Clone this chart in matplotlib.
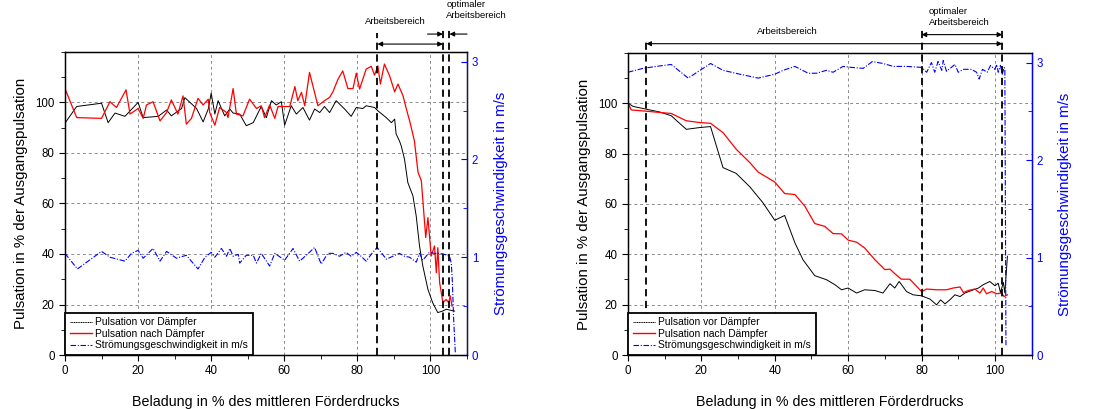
import matplotlib
matplotlib.use("Agg")
import matplotlib.pyplot as plt
from matplotlib.ticker import MultipleLocator

plt.rcParams['font.family'] = ['Liberation Sans', 'DejaVu Sans']

# ---- left panel data ----
l_vor_x = [0, 3.2, 10, 11.8, 13.7, 16.4, 20, 21.4, 25.5, 27.8, 29.1, 31.9, 32.8, 36, 37.8, 39.2, 40, 41, 41.9,
           43.7, 45.1, 46, 47.8, 49.6, 51.5, 53.7, 55.1, 56.5, 57.8, 59.2, 60.1, 61.9, 63.3, 65.1, 66.9, 68.3,
           69.7, 71, 72.4, 74.2, 76.5, 78.3, 79.7, 81.5, 82.4, 84.7, 85.6, 87.9, 89.3, 90.2, 90.6, 91.5, 92,
           92.9, 93.8, 95.2, 96.1, 97, 97.9, 99.3, 100.6, 102, 103.3, 104.3, 106.6]
l_vor_y = [91.8, 98.4, 99.7, 92, 95.8, 94.5, 100, 94, 94.5, 97, 94.7, 97.6, 101.9, 97.6, 92.3, 97.4, 103.7, 95.4,
           100.7, 94.7, 97.4, 95.8, 95.4, 90.8, 92, 98.4, 94, 100.7, 99, 100.3, 91, 98.7, 95.4, 98, 93, 97.4,
           96, 98.4, 96, 100.7, 97.4, 94.5, 98, 97.6, 98.7, 98, 96.7, 94, 92, 93.4, 87.5, 84.8, 82.8,
           77.5, 68.3, 63, 55, 43.2, 35.3, 26, 20.7, 16.8, 17.4, 18.1, 17.4]
l_nach_x = [0, 3.2, 10, 12.3, 14.1, 16.7, 17.8, 20, 21.4, 22.3, 24.1, 26, 27.8, 29.1, 30.9, 32.3, 33.2, 34.6,
            36.4, 37.8, 39.2, 39.6, 41, 42.3, 44.2, 44.6, 46, 46.9, 48.7, 50.5, 52.4, 53.7, 54.6, 56, 57.4,
            58.3, 61.5, 62.9, 63.7, 64.7, 65.6, 66.9, 69.2, 71, 72.4, 73.3, 74.7, 76, 77.4, 78.8, 79.7, 80.6,
            82.4, 83.8, 84.7, 85.6, 86.3, 87.4, 88.8, 90.2, 91.1, 92.5, 93.4, 94.3, 95.6, 96.6, 97.5, 98.7,
            99.3, 100.2, 101.1, 101.6, 102, 102.5, 103.4, 104.3, 105, 105.4, 105.9]
l_nach_y = [105.5, 94, 93.7, 100.3, 98, 105, 95.4, 97.6, 93.7, 99, 100.3, 92.7, 96, 101, 95.4, 102.6, 91.4, 93.7,
            101.6, 99, 101.3, 96, 91, 98, 96, 94, 105.5, 95.4, 94.7, 101.3, 97.6, 98.7, 94, 99, 93.7,
            98.4, 98.4, 106.3, 100.7, 104, 98.7, 111.9, 98.7, 100.7, 102, 104.2, 109.2, 112.5, 105.5, 105.5, 111.6, 105.3,
            113.2, 114.3, 110.8, 114.5, 107.3, 115.2, 110.6, 104.2, 107.3, 102.6, 97.4, 92.7, 84.8, 72.3, 69, 46.5,
            54.4, 39.2, 43.2, 32.6, 42.5, 28.7, 20.7, 22, 20.7, 23.4, 19.4]
l_v_x = [0, 3.4, 10, 12.3, 16.4, 18.2, 20, 21.4, 24.1, 26, 27.8, 30.5, 33.2, 36.4, 38.3, 40, 41, 42.8, 44.2,
         45.1, 46, 47.4, 47.8, 49.6, 51.5, 52.4, 53.7, 56, 57.4, 60.1, 62.4, 64.2, 66, 68.3, 70.1, 71.9, 73.3,
         75.1, 76.9, 78.3, 79.7, 81, 82.4, 84.2, 85.4, 86.5, 87.9, 89.7, 91.5, 92.9, 94.3, 96.1, 97, 97.9,
         99.7, 101.1, 102.5, 103.8, 105.2, 105.7, 106, 106.3, 106.8]
l_v_y = [1.04, 0.88, 1.06, 1.0, 0.96, 1.04, 1.07, 0.99, 1.09, 0.96, 1.06, 0.99, 1.02, 0.88, 1.0, 1.05, 1.0, 1.09, 1.01,
         1.09, 1.01, 1.03, 0.94, 1.02, 1.02, 0.94, 1.04, 0.91, 1.04, 0.97, 1.09, 0.96, 1.02, 1.10, 0.93, 1.04, 1.04,
         1.01, 1.05, 1.01, 1.05, 1.01, 0.96, 1.05, 1.10, 1.05, 0.98, 1.01, 1.04, 1.01, 1.0, 0.95, 1.04, 0.97,
         1.05, 1.04, 1.04, 1.03, 1.01, 0.94, 0.74, 0.40, 0.02]

# ---- right panel data ----
r_vor_x = [0, 1.4, 5, 8.6, 11.8, 13.6, 15.9, 19.5, 22.5, 24.1, 25.9, 29.5, 33.2, 36.8, 40, 42.7, 45.5, 47.7,
           50.9, 54.1, 56.4, 58.2, 60, 62.3, 64.5, 67.3, 69.5, 71.4, 72.7, 73.9, 75.9, 77.7, 80, 82.3, 84.1,
           85.2, 86.4, 87.7, 89.1, 90.5, 91.8, 93.6, 95.5, 96.8, 98.6, 100, 100.9, 101.5, 102.3, 102.7, 103.4]
r_vor_y = [100, 98.7, 97.6, 96.5, 95, 92.6, 89.6, 90.3, 90.7, 83, 74.4, 72.1, 66.8, 60.4, 53.5, 55.4, 44.5, 37.8,
           31.5, 29.9, 27.9, 25.9, 26.6, 24.6, 25.9, 25.6, 24.6, 28.3, 26.6, 29.2, 25.2, 23.9, 23.5, 22.2, 19.9,
           21.9, 20.3, 21.9, 23.9, 23.2, 24.6, 25.6, 26.6, 27.9, 29.2, 27.5, 28.5, 24.8, 28.8, 24.6, 39.2]
r_nach_x = [0, 0.9, 5, 8.6, 11.8, 15.9, 19.5, 22.5, 25.9, 29.5, 33.2, 35.5, 40, 42.7, 45.5, 48.2, 50.9, 53.6,
            55.9, 58.2, 60, 62.3, 64.5, 67.3, 70, 71.4, 72.7, 74.5, 76.8, 80, 81.4, 84.1, 86.8, 88.6, 90.5,
            91.4, 92.7, 94.5, 95.9, 96.8, 97.7, 99.1, 100.5, 101.8, 102.5, 103.4]
r_nach_y = [100, 97.3, 96.8, 96.3, 95.9, 93, 92.3, 92, 88.3, 81.7, 76.4, 72.6, 68.7, 64.1, 63.7, 59.1, 52.2, 51.1,
            48.2, 48.1, 45.6, 44.8, 42.5, 37.8, 33.9, 34.1, 32.3, 30.1, 30.1, 25.2, 26.2, 25.9, 25.9, 26.6, 27,
            24.8, 25.6, 26.2, 24.6, 26.6, 24.3, 25.2, 24.3, 24.6, 23.2, 23.9]
r_v_x = [0, 4.1, 7.7, 11.8, 16.4, 22.5, 25.9, 30.5, 35.5, 40, 42.3, 45.5, 49.1, 51.4, 54.1, 55.9, 58.6, 60.9,
         64.1, 66.6, 69.5, 72.3, 75.9, 80, 81.4, 82.7, 83.6, 84.5, 85.5, 85.9, 86.8, 89.1, 90, 91.4, 93.6, 95,
         95.7, 96.6, 97.9, 98.8, 100, 100.5, 100.9, 101.5, 102, 102.5, 102.7, 103]
r_v_y = [2.90, 2.94, 2.96, 2.98, 2.84, 2.99, 2.92, 2.88, 2.84, 2.88, 2.92, 2.96, 2.89, 2.89, 2.92, 2.90, 2.96, 2.95,
         2.94, 3.01, 2.99, 2.96, 2.96, 2.95, 2.90, 3.0, 2.90, 3.01, 2.92, 3.02, 2.91, 2.98, 2.90, 2.93, 2.93, 2.90,
         2.83, 2.93, 2.90, 2.97, 2.93, 2.98, 2.90, 2.97, 2.88, 2.95, 2.93, 0.10]

# working ranges (x in %)
l_bereich = [85.5, 103.4]
l_optimal = [103.4, 105.2]
r_bereich = [5, 102]
r_optimal = [80, 102]

fig = plt.figure(figsize=(10.94, 4.09), dpi=100)
ax_l = fig.add_axes([0.0594, 0.132, 0.3675, 0.741])
ax_r = fig.add_axes([0.574, 0.132, 0.369, 0.739])


def setup(ax, vor_x, vor_y, nach_x, nach_y, v_x, v_y):
    ax.plot(vor_x, vor_y, color='black', lw=0.7)
    ax.plot(nach_x, nach_y, color='red', lw=0.9)
    ax.set_xlim(0, 110)
    ax.set_ylim(0, 120)
    ax.set_xticks(range(0, 101, 20))
    ax.set_yticks(range(0, 101, 20))
    ax.xaxis.set_minor_locator(MultipleLocator(10))
    ax.yaxis.set_minor_locator(MultipleLocator(10))
    ax.tick_params(which='both', direction='out', labelsize=8.3)
    ax.tick_params(which='major', length=4)
    ax.tick_params(which='minor', length=3)
    ax.grid(True, color='#8c8c8c', linestyle=(0, (3, 3)), lw=0.7)
    ax.set_xlabel('Beladung in % des mittleren Förderdrucks', fontsize=10.3, labelpad=13)
    ax.set_ylabel('Pulsation in % der Ausgangspulsation', fontsize=10.8, labelpad=5)
    for s in ax.spines.values():
        s.set_linewidth(1.0)

    ax2 = ax.twinx()
    ax2.plot(v_x, v_y, color='blue', lw=0.8, linestyle=(0, (5, 1.5, 1, 1.5)))
    ax2.set_ylim(0, 3.1)
    ax2.set_yticks([0, 1, 2, 3])
    ax2.yaxis.set_minor_locator(MultipleLocator(0.5))
    ax2.tick_params(which='both', direction='in', colors='blue', labelsize=8.3)
    ax2.tick_params(which='major', length=4)
    ax2.tick_params(which='minor', length=3)
    ax2.spines['right'].set_color('blue')
    ax2.set_ylabel('Strömungsgeschwindigkeit in m/s', color='blue', fontsize=10.8, labelpad=11)

    h = [plt.Line2D([], [], color='black', lw=0.7, linestyle=(0, (1.2, 0.6))),
         plt.Line2D([], [], color='red', lw=1.0),
         plt.Line2D([], [], color='blue', lw=0.8, linestyle=(0, (5, 1.5, 1, 1.5)))]
    leg = ax2.legend(h, ['Pulsation vor Dämpfer', 'Pulsation nach Dämpfer', 'Strömungsgeschwindigkeit in m/s'],
                     loc='lower left', borderaxespad=0, fontsize=7.4, fancybox=False, framealpha=1,
                     edgecolor='black', handlelength=2.2, labelspacing=0.15, borderpad=0.45,
                     handletextpad=0.3, frameon=True)
    leg.get_frame().set_linewidth(1.3)
    return ax2


ax2_l = setup(ax_l, l_vor_x, l_vor_y, l_nach_x, l_nach_y, l_v_x, l_v_y)
ax2_r = setup(ax_r, r_vor_x, r_vor_y, r_nach_x, r_nach_y, r_v_x, r_v_y)

dash = dict(color='black', lw=1.3, linestyle=(0, (4, 2.5)), clip_on=False, zorder=5)
arr = dict(arrowstyle='-|>', color='black', lw=0.8, mutation_scale=7, shrinkA=0, shrinkB=0)
arr2 = dict(arrowstyle='<|-|>', color='black', lw=0.8, mutation_scale=7, shrinkA=0, shrinkB=0)

# left annotations
tl = ax2_l.get_xaxis_transform()
ax2_l.plot([l_bereich[0]] * 2, [0, 1.063], transform=tl, **dash)
for xv in l_optimal:
    ax2_l.plot([xv] * 2, [0, 1.079], transform=tl, **dash)
ax2_l.annotate('', xy=(l_bereich[0], 1.026), xytext=(l_bereich[1], 1.026), xycoords=tl, textcoords=tl,
               arrowprops=arr2)
ax2_l.annotate('', xy=(l_optimal[0], 1.059), xytext=(99.2, 1.059), xycoords=tl, textcoords=tl, arrowprops=arr)
ax2_l.annotate('', xy=(l_optimal[1], 1.059), xytext=(110, 1.059), xycoords=tl, textcoords=tl, arrowprops=arr)
ax2_l.text(90.5, 1.085, 'Arbeitsbereich', transform=tl, ha='center', va='bottom', fontsize=6.8)
ax2_l.text(104.3, 1.105, 'optimaler\nArbeitsbereich', transform=tl, ha='left', va='bottom', fontsize=6.8,
           linespacing=1.3)

# right annotations
tr = ax2_r.get_xaxis_transform()
ax2_r.plot([r_bereich[0]] * 2, [0, 1.036], transform=tr, **dash)
for xv in r_optimal:
    ax2_r.plot([xv] * 2, [0, 1.076], transform=tr, **dash)
ax2_r.annotate('', xy=(r_bereich[0], 1.03), xytext=(r_bereich[1], 1.03), xycoords=tr, textcoords=tr,
               arrowprops=arr2)
ax2_r.annotate('', xy=(r_optimal[0], 1.06), xytext=(r_optimal[1], 1.06), xycoords=tr, textcoords=tr,
               arrowprops=arr2)
ax2_r.text(43.5, 1.055, 'Arbeitsbereich', transform=tr, ha='center', va='bottom', fontsize=6.8)
ax2_r.text(82, 1.085, 'optimaler\nArbeitsbereich', transform=tr, ha='left', va='bottom', fontsize=6.8,
           linespacing=1.3)

plt.savefig('out.png', dpi=100)
